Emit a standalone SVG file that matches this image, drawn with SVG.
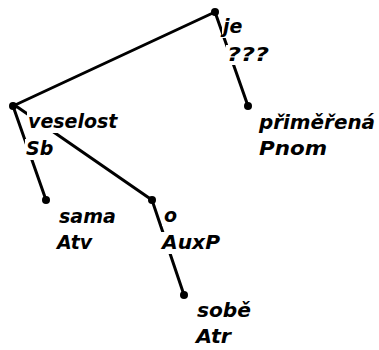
<svg xmlns="http://www.w3.org/2000/svg" width="379" height="350" viewBox="0 0 379 350">
<style>
.e{stroke:#000;stroke-width:3;stroke-linecap:round;fill:none}
.d{fill:#000}
.b{fill:#fff}
.t{font-family:"DejaVu Sans",Verdana,sans-serif;font-weight:bold;font-style:italic;font-size:19px;fill:#000}
</style>
<rect width="379" height="350" fill="#fff"/>
<g id="edges">
<line class="e" x1="215" y1="12" x2="13" y2="106"/>
<line class="e" x1="215" y1="12" x2="248" y2="106"/>
<line class="e" x1="13" y1="106" x2="46" y2="200"/>
<line class="e" x1="13" y1="104" x2="152" y2="200"/>
<line class="e" x1="152" y1="200" x2="184" y2="295"/>
</g>
<g id="n-je">
<circle class="d" cx="215" cy="12" r="4"/>
<rect class="b" x="222" y="17" width="22" height="21"/>
<rect class="b" x="226" y="45" width="46" height="20"/>
<text class="t" x="223" y="33">je</text>
<text class="t" x="227" y="61" textLength="42" lengthAdjust="spacingAndGlyphs">???</text>
</g>
<g id="n-veselost">
<circle class="d" cx="13" cy="106" r="4"/>
<rect class="b" x="27" y="112" width="92" height="21"/>
<rect class="b" x="25" y="139" width="31" height="21"/>
<text class="t" x="28" y="128">veselost</text>
<text class="t" x="26" y="155">Sb</text>
</g>
<g id="n-primerena">
<circle class="d" cx="248" cy="106" r="4"/>
<text class="t" x="259" y="129" textLength="116" lengthAdjust="spacingAndGlyphs">přiměřená</text>
<text class="t" x="259" y="155" textLength="68" lengthAdjust="spacingAndGlyphs">Pnom</text>
</g>
<g id="n-sama">
<circle class="d" cx="46" cy="200" r="4"/>
<text class="t" x="59" y="223">sama</text>
<text class="t" x="57" y="249">Atv</text>
</g>
<g id="n-o">
<circle class="d" cx="152" cy="200" r="4"/>
<rect class="b" x="162" y="208" width="16" height="18"/>
<rect class="b" x="161" y="232" width="62" height="22"/>
<text class="t" x="164" y="222">o</text>
<text class="t" x="162" y="249" textLength="58" lengthAdjust="spacingAndGlyphs">AuxP</text>
</g>
<g id="n-sobe">
<circle class="d" cx="184" cy="295" r="4"/>
<text class="t" x="197" y="317" textLength="54" lengthAdjust="spacingAndGlyphs">sobě</text>
<text class="t" x="196" y="343" textLength="35" lengthAdjust="spacingAndGlyphs">Atr</text>
</g>
</svg>
